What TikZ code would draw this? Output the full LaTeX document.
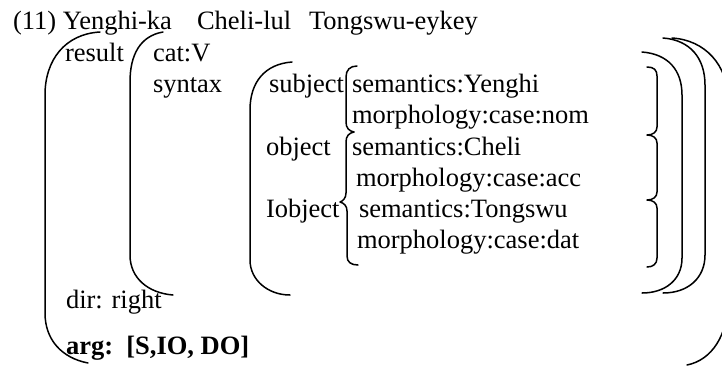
\documentclass[tikz,border=0pt]{standalone}
\usepackage{fontspec}
\setmainfont{Liberation Serif}
\tikzset{
  txt/.style={anchor=base west, inner sep=0pt, outer sep=0pt, font=\fontsize{26.5}{32}\selectfont},
  brk/.style={line width=1.5pt, line cap=round, line join=round}
}
\begin{document}
\begin{tikzpicture}[x=1pt, y=-1pt]
\useasboundingbox (0,0) rectangle (722,365);
\fill[white] (0,0) rectangle (722,365);
\clip (0,0) rectangle (722,365);
% texts
\node[txt] (ex)   at (13,29)  {(11) Yenghi-ka};
\node[txt] (w2)   at (197,29) {Cheli-lul};
\node[txt] (w3)   at (309,29) {Tongswu-eykey};
\node[txt] (res)  at (65,61)  {result};
\node[txt] (cat)  at (153,61) {cat:V};
\node[txt] (syn)  at (153,92) {syntax};
\node[txt] (subj) at (269,92) {subject};
\node[txt] (s1)   at (352,92) {semantics:Yenghi};
\node[txt] (m1)   at (352,123) {morphology:case:nom};
\node[txt] (obj)  at (266,155) {object};
\node[txt] (s2)   at (352,155) {semantics:Cheli};
\node[txt] (m2)   at (356,186) {morphology:case:acc};
\node[txt] (iobj) at (266,217) {Iobject};
\node[txt] (s3)   at (359,217) {semantics:Tongswu};
\node[txt] (m3)   at (357,248) {morphology:case:dat};
\node[txt] (dir)  at (66,308) {dir: right};
\node[txt] (arg)  at (66,354) {\bfseries arg:\ \ [S,IO, DO]};
% left brackets
\draw[brk] (100,32) .. controls (65,34) and (45,60) .. (45,95) -- (45,313) .. controls (45,340) and (62,358) .. (88,363);
\draw[brk] (163,32) .. controls (140,36) and (130,55) .. (130,82) -- (130,255) .. controls (130,278) and (148,293) .. (173,295);
\draw[brk] (292,62) .. controls (265,64) and (250,82) .. (250,110) -- (250,260) .. controls (250,280) and (268,295) .. (290,295);
% right brackets
\draw[brk] (642,52) .. controls (668,54) and (682,70) .. (682,95) -- (682,258) .. controls (682,280) and (665,293) .. (642,293);
\draw[brk] (663,38) .. controls (690,40) and (705,58) .. (705,85) -- (705,255) .. controls (705,278) and (688,293) .. (663,293);
\draw[brk] (672,38) .. controls (705,40) and (728,65) .. (728,100) -- (728,300) .. controls (728,335) and (712,360) .. (687,365);
% small left braces
\draw[brk] (357,66) .. controls (350,66) and (346,70) .. (346,77) -- (346,122) .. controls (346,128) and (349,131) .. (354,132);
\draw[brk] (354,132) .. controls (349,133) and (346,136) .. (346,142) -- (346,193) .. controls (346,198) and (343,201) .. (340,202)
  .. controls (344,203) and (347,206) .. (347,211) -- (347,256) .. controls (347,262) and (351,265) .. (358,265);
% right brace
\draw[brk] (647,67) .. controls (654,67) and (657,70) .. (657,76) -- (657,127) .. controls (657,132) and (653,135) .. (647,135)
  .. controls (653,135) and (657,138) .. (657,143) -- (657,192) .. controls (657,197) and (653,200) .. (647,200)
  .. controls (653,200) and (657,203) .. (657,208) -- (657,258) .. controls (657,264) and (653,267) .. (647,267);
\end{tikzpicture}
\end{document}
